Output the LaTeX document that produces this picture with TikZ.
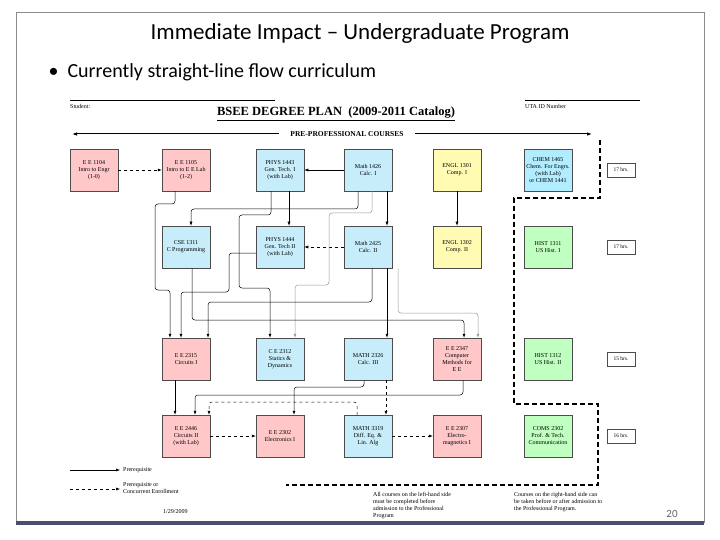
\documentclass[tikz,border=0pt]{standalone}
\usepackage{fontspec}
\setmainfont{Liberation Serif}
\newfontfamily\slidefont{Carlito}
\usetikzlibrary{calc,arrows.meta}
\begin{document}
\begin{tikzpicture}[x=1pt,y=-1pt,
 course/.style={draw=black!70,line width=0.5pt,minimum width=48pt,minimum height=42pt,inner sep=1pt,align=center,font=\fontsize{6}{7}\selectfont},
 pinkc/.style={course,fill=red!22},
 cyanc/.style={course,fill=cyan!22},
 yelc/.style={course,fill=yellow!30},
 bluec/.style={course,fill=blue!25!cyan!30},
 grnc/.style={course,fill=green!25},
 hrs/.style={draw=black!70,line width=0.4pt,minimum width=28pt,minimum height=14pt,inner sep=1pt,font=\fontsize{5.5}{6}\selectfont},
 pre/.style={-{Latex[length=4pt,width=3pt]},line width=0.5pt,rounded corners=3pt},
 conc/.style={pre,dashed},
 grey/.style={pre,draw=black!40},
 note/.style={font=\fontsize{6}{7}\selectfont,align=left,anchor=north west,inner sep=0pt},
 thickdash/.style={line width=2.5pt,dash pattern=on 5pt off 3pt}]
\useasboundingbox (0,0) rectangle (720,540);
\fill[white] (0,0) rectangle (720,540);
\draw[black!45,line width=0.8pt] (16,12) rectangle (704,522);
\fill[black!70!blue!40!gray] (16,521) rectangle (704,525);
\node[font=\slidefont\fontsize{23}{26}\selectfont] (title) at (360,33) {Immediate Impact – Undergraduate Program};
\node[font=\slidefont\fontsize{20}{24}\selectfont,anchor=west] (bullet) at (45,72) {\textbullet\ \ Currently straight-line flow curriculum};
% header
\draw[line width=0.6pt] (70,100) -- (275,100);
\draw[line width=0.6pt] (525,100) -- (640,100);
\node[note] (stud) at (70,104) {Student:};
\node[note] (uta) at (525,104) {UTA ID Number};
\node[font=\bfseries\fontsize{12.5}{14}\selectfont] (plan) at (336,114) {\underline{BSEE DEGREE PLAN\ \ (2009-2011 Catalog)}};
\node[font=\bfseries\fontsize{7.5}{9}\selectfont] (ppc) at (347,134) {PRE-PROFESSIONAL COURSES};
\coordinate (la) at (72,134);
\coordinate (ra) at (592,134);
\draw[-{Latex[length=5pt,width=3.5pt]},line width=1pt] (ppc.west) ++(-8,0) -- (la);
\draw[-{Latex[length=5pt,width=3.5pt]},line width=1pt] (ppc.east) ++(8,0) -- (ra);
% row 1
\node[pinkc] (e1104) at (94,170) {E E 1104\\Intro to Engr\\(1-0)};
\node[pinkc] (e1105) at (186,170) {E E 1105\\Intro to E E Lab\\(1-2)};
\node[cyanc] (p1443) at (280,170) {PHYS 1443\\Gen. Tech. I\\(with Lab)};
\node[cyanc] (m1426) at (368,170) {Math 1426\\Calc. I};
\node[yelc] (en1) at (457,170) {ENGL 1301\\Comp. I};
\node[bluec] (chem) at (548,170) {CHEM 1465\\Chem. For Engrs.\\(with Lab)\\or CHEM 1441};
% row 2
\node[cyanc] (cse) at (186,247) {CSE 1311\\C Programming};
\node[cyanc] (p1444) at (280,247) {PHYS 1444\\Gen. Tech II\\(with Lab)};
\node[cyanc] (m2425) at (368,247) {Math 2425\\Calc. II};
\node[yelc] (en2) at (457,247) {ENGL 1302\\Comp. II};
\node[grnc] (h1) at (548,247) {HIST 1311\\US Hist. I};
% row 3
\node[pinkc] (e2315) at (186,359) {E E 2315\\Circuits I};
\node[cyanc] (ce) at (280,359) {C E 2312\\Statics \&\\Dynamics};
\node[cyanc] (m2326) at (368,359) {MATH 2326\\Calc. III};
\node[pinkc] (e2347) at (457,359) {E E 2347\\Computer\\Methods for\\E E};
\node[grnc] (h2) at (548,359) {HIST 1312\\US Hist. II};
% row 4
\node[pinkc] (e2446) at (186,436) {E E 2446\\Circuits II\\(with Lab)};
\node[pinkc] (e2302) at (280,436) {E E 2302\\Electronics I};
\node[cyanc] (m3319) at (368,436) {MATH 3319\\Diff. Eq. \&\\Lin. Alg};
\node[pinkc] (e2307) at (457,436) {E E 2307\\Electro-\\magnetics I};
\node[grnc] (coms) at (548,436) {COMS 2302\\Prof. \& Tech.\\Communication};
% hours
\node[hrs] (hr1) at (621,170) {17 hrs.};
\node[hrs] (hr2) at (621,247) {17 hrs.};
\node[hrs] (hr3) at (621,359) {15 hrs.};
\node[hrs] (hr4) at (621,436) {16 hrs.};
% thick dashed boundary
\draw[thickdash] (600,140) -- (600,198) -- (514,198) -- (514,404) -- (598,404) -- (598,485) -- (286,485);
% horizontal connectors
\draw[conc] (e1104) -- (e1105);
\draw[pre] (m1426) -- (p1443);
\draw[conc] (m2425) -- (p1444);
\draw[conc] (e2446) -- (e2302);
\draw[conc] (m3319) -- (e2307);
% vertical connectors
\draw[pre] ($(e1105.south)+(-11,0)$) -- (175,204) -- (155,204) -- (155,290) -- (170,290) -- ($(e2315.north)+(-16,0)$);
\draw[pre] ($(m1426.south)+(-10,0)$) -- (358,209) -- (191,209) -- ($(cse.north)+(5,0)$);
\draw[pre] ($(p1443.south)+(-9,0)$) -- (271,215) -- (239,215) -- (239,288) -- (270,288) -- ($(ce.north)+(-10,0)$);
\draw[pre] ($(p1443.south)+(9,0)$) -- ($(p1444.north)+(9,0)$);
\draw[grey] ($(m1426.south)+(4,0)$) -- (372,213) -- (329,213) -- (329,285) -- (295,285) -- ($(ce.north)+(15,0)$);
\draw[pre] ($(m1426.south)+(19,0)$) -- ($(m2425.north)+(19,0)$);
\draw[pre] ($(p1444.west)+(0,6)$) -- (229,253) -- (229,292) -- (181,292) -- ($(e2315.north)+(-5,0)$);
\draw[pre] ($(m2425.south)+(4,0)$) -- (372,302) -- (208,302) -- ($(e2315.north)+(22,0)$);
\draw[pre] ($(cse.south)+(6,0)$) -- (192,320) -- (464,320) -- ($(e2347.north)+(7,0)$);
\draw[grey] ($(m2425.south)+(30,0)$) -- (398,313) -- (478,313) -- ($(e2347.north)+(21,0)$);
\draw[pre] ($(m2425.south)+(19,0)$) -- ($(m2326.north)+(19,0)$);
\draw[pre] (en1) -- (en2);
\draw[pre] ($(e2315.south)+(-11,0)$) -- ($(e2446.north)+(-11,0)$);
\draw[pre] ($(e2347.south)+(6,0)$) -- (463,395) -- (195,395) -- ($(e2446.north)+(9,0)$);
\draw[pre] ($(m2326.south)+(-4,0)$) -- (364,387) -- (294,387) -- ($(e2302.north)+(14,0)$);
\draw[conc] ($(m3319.north)+(-11,0)$) -- (357,402) -- (209,402) -- ($(e2446.north)+(23,0)$);
\draw[conc] ($(m2326.south)+(18,0)$) -- ($(m3319.north)+(18,0)$);
% legend
\coordinate (l1a) at (70,470); \coordinate (l1b) at (120,470);
\coordinate (l2a) at (70,489); \coordinate (l2b) at (120,489);
\draw[pre] (l1a) -- (l1b);
\draw[conc] (l2a) -- (l2b);
\node[note,anchor=west] (leg1) at (123,470) {Prerequisite};
\node[note,anchor=west] (leg2) at (123,488) {Prerequisite or\\Concurrent Enrollment};
\node[note] (n1) at (373,492) {All courses on the left-hand side\\must be completed before\\admission to the Professional\\Program};
\node[note] (n2) at (514,492) {Courses on the right-hand side can\\be taken before or after admission to\\the Professional Program.};
\node[note] (date) at (163,509) {1/29/2009};
\node[font=\slidefont\fontsize{11}{12}\selectfont,text=black!60] (pg) at (672,514) {20};
\end{tikzpicture}
\end{document}
